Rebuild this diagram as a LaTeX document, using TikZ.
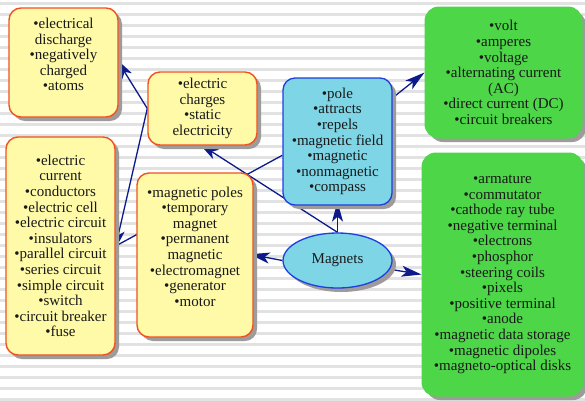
\documentclass[tikz,border=0pt]{standalone}
\usepackage{fontspec}
\setmainfont{Liberation Serif}
\newfontfamily\mapfont{Liberation Serif}
\usetikzlibrary{shapes.geometric,shadows,arrows.meta}

\definecolor{boxyellow}{RGB}{255,250,168}
\definecolor{boxred}{RGB}{240,82,32}
\definecolor{boxblue}{RGB}{125,213,229}
\definecolor{lineblue}{RGB}{30,62,224}
\definecolor{boxgreen}{RGB}{76,214,72}
\definecolor{shade}{RGB}{160,155,155}
\definecolor{navy}{RGB}{12,26,140}
\definecolor{stripe}{RGB}{226,226,226}

\pgfdeclarelayer{paper}
\pgfdeclarelayer{links}
\pgfsetlayers{paper,links,main}

\begin{document}
\begin{tikzpicture}[x=1pt,y=-1pt,
  every node/.style={font=\mapfont\fontsize{15}{15.6}\selectfont, text=black!90, align=center, inner sep=0pt},
  shadowed/.style={drop shadow={shadow xshift=4pt,shadow yshift=-4pt,fill=shade,opacity=1}},
  termbox/.style={shadowed, rectangle, rounded corners=12pt, draw=boxred, line width=1.4pt, fill=boxyellow},
  magbox/.style={shadowed, rectangle, rounded corners=12pt, draw=lineblue, line width=1.3pt, fill=boxblue},
  greenbox/.style={shadowed, rectangle, rounded corners=14pt, draw=boxgreen, line width=1pt, fill=boxgreen},
  hub/.style={shadowed, ellipse, draw=lineblue, line width=1.3pt, fill=boxblue},
  link/.style={draw=navy, line width=1.3pt, -{Stealth[length=20pt,width=11pt,inset=5pt]}},
  plainlink/.style={draw=navy, line width=1.3pt}
]
\useasboundingbox (0,0) rectangle (585,400);

% striped paper
\begin{pgfonlayer}{paper}
  \fill[white] (0,0) rectangle (585,400);
  \foreach \k in {0,...,36}
    \fill[stripe] (0,{2+11*\k}) rectangle (585,{5+11*\k});
\end{pgfonlayer}

% concept boxes
\node[termbox, minimum width=109pt, minimum height=109pt,
      label={[name=dis-text, yshift=8pt]center:{%
      •electrical\\discharge\\•negatively\\charged\\•atoms}}]
  (dis) at (63.5,62.5) {};

\node[termbox, minimum width=109pt, minimum height=73pt] (charges) at (202.5,108.5)
  {•electric\\charges\\•static\\electricity};

\node[termbox, minimum width=109pt, minimum height=218pt] (cur) at (60.5,246)
  {•electric\\current\\•conductors\\•electric cell\\•electric circuit\\•insulators\\%
   •parallel circuit\\•series circuit\\•simple circuit\\•switch\\•circuit breaker\\•fuse};

\node[termbox, minimum width=116pt, minimum height=164pt,
      label={[name=magpoles-text, yshift=8.5pt]center:{%
      •magnetic poles\\•temporary\\magnet\\•permanent\\magnetic\\•electromagnet\\%
      •generator\\•motor}}]
  (magpoles) at (195,255) {};

\node[magbox, minimum width=109pt, minimum height=127pt] (pole) at (337.5,141.5)
  {•pole\\•attracts\\•repels\\•magnetic field\\•magnetic\\•nonmagnetic\\•compass};

\node[greenbox, minimum width=157pt, minimum height=131pt] (green1) at (503.5,72.5)
  {•volt\\•amperes\\•voltage\\•alternating current\\(AC)\\•direct current (DC)\\•circuit breakers};

\node[greenbox, minimum width=161pt, minimum height=243pt] (green2) at (502.5,274.5)
  {•armature\\•commutator\\•cathode ray tube\\•negative terminal\\•electrons\\•phosphor\\%
   •steering coils\\•pixels\\•positive terminal\\•anode\\•magnetic data storage\\%
   •magnetic dipoles\\•magneto-optical disks};

\node[hub, minimum width=109pt, minimum height=55pt] (mag) at (337.5,260.5) {Magnets};

% connectors, kept under the boxes
\begin{pgfonlayer}{links}
  \draw[link, shorten >=-4pt] (charges.west) -- (dis.east);
  \draw[link, shorten >=-4pt] (charges.west) -- (cur.east);
  \draw[plainlink, shorten >=-4pt] (pole.194) -- (cur.east);
  \draw[link, shorten >=-4pt] (mag.north) -- (charges.south);
  \draw[link, shorten >=-4pt] (mag.north) -- (pole.south);
  \draw[link, shorten >=-4pt] (mag.west) -- (magpoles.east);
  \draw[link] (mag) -- (green2.west);
  \draw[link] (pole) -- (green1.west);
\end{pgfonlayer}
\end{tikzpicture}
\end{document}
